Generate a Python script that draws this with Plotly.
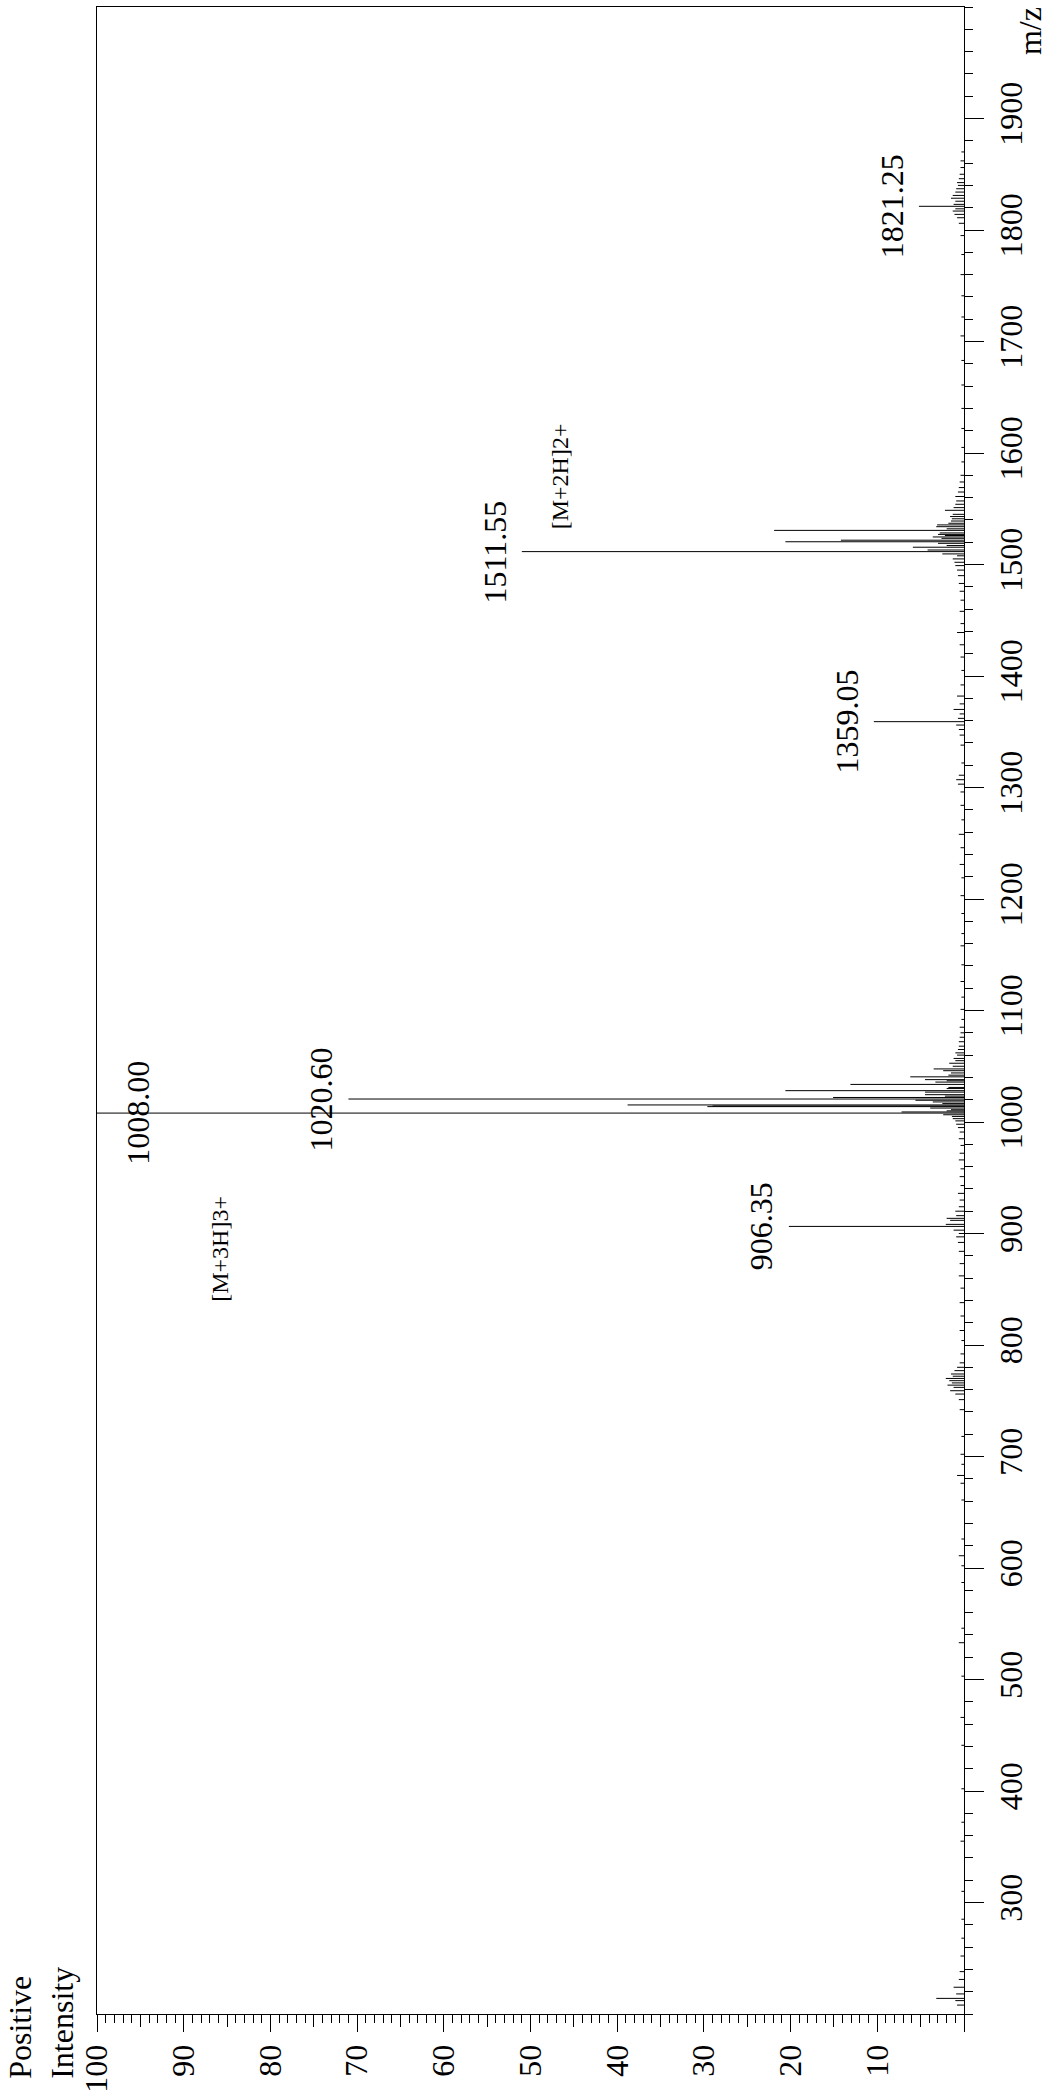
import plotly.graph_objects as go

# ---- spectrum data (m/z, relative intensity %) ----
mz = [208, 212, 214, 218, 224, 231, 238, 252, 268, 285,
      310, 355, 372, 402, 441, 466, 503, 533, 546, 587,
      602, 611, 626, 661, 676, 683, 693, 702, 718, 742,
      751, 756, 759, 762, 764, 766, 768, 770, 772, 774,
      777, 780, 784, 792, 804, 813, 826, 838, 851, 862,
      873, 884, 892, 897, 900, 903, 906.35, 908.2, 911.8, 913.6,
      916, 920, 924, 930, 936, 943, 951, 958, 966, 972,
      979, 985, 991, 995, 998, 1001, 1003, 1005, 1006.5, 1008.0,
      1009, 1010, 1011, 1012.5, 1013.8, 1014.4, 1015.3, 1016.5, 1018, 1019.5,
      1020.6, 1022, 1023.2, 1024.5, 1026.8, 1028.1, 1030, 1031, 1033.7, 1035.8,
      1037, 1038, 1040.5, 1042, 1044, 1046, 1047.6, 1050, 1052.7, 1055,
      1057, 1060, 1062, 1065, 1068, 1072, 1076, 1080, 1085, 1092,
      1101, 1112, 1126, 1141, 1158, 1169, 1187, 1203, 1219, 1231,
      1246, 1258, 1271, 1284, 1296, 1303, 1307, 1311, 1322, 1338,
      1347, 1352, 1356, 1359.05, 1362, 1366, 1370, 1375, 1382, 1392,
      1405, 1417, 1428, 1439, 1447, 1458, 1468, 1476, 1483, 1490,
      1495, 1499, 1502, 1505, 1507.8, 1509.5, 1511.55, 1513, 1515.5, 1517,
      1519, 1520.4, 1521.8, 1523.5, 1524.7, 1526, 1527, 1528.3, 1530.6, 1532,
      1533.9, 1535.5, 1537, 1539, 1541, 1543, 1545, 1548.6, 1551, 1554,
      1557, 1561, 1565, 1569, 1574, 1580, 1592, 1605, 1622, 1640,
      1661, 1683, 1705, 1722, 1741, 1760, 1778, 1795, 1806, 1811,
      1814, 1817, 1819, 1821.25, 1823, 1825.8, 1828.5, 1831, 1834, 1837,
      1840, 1842.5, 1846, 1850, 1856, 1862, 1870]
intensity = [0.8, 1.0, 3.2, 0.9, 1.2, 0.6, 0.5, 0.4, 0.3, 0.3,
             0.3, 0.4, 0.3, 0.3, 0.3, 0.4, 0.3, 0.6, 0.3, 0.3,
             0.3, 0.6, 0.3, 0.3, 0.4, 0.8, 0.3, 0.4, 0.3, 0.5,
             0.6, 1.0, 1.6, 1.2, 1.9, 1.4, 1.7, 2.1, 1.3, 1.5,
             1.1, 0.8, 0.5, 0.4, 0.3, 0.5, 0.4, 0.5, 0.4, 0.6,
             0.5, 0.6, 0.7, 0.9, 0.6, 1.2, 20.2, 2.1, 1.6, 2.0,
             0.9, 1.0, 0.6, 0.5, 0.7, 0.4, 0.5, 0.4, 0.6, 0.5,
             0.4, 0.6, 0.5, 0.7, 0.9, 1.0, 1.3, 1.4, 2.4, 100.0,
             7.2, 2.0, 1.5, 3.9, 29.6, 29.0, 38.8, 2.5, 3.6, 5.6,
             71.0, 15.1, 2.2, 4.5, 4.5, 20.6, 2.0, 1.8, 13.1, 3.3,
             2.0, 4.5, 6.2, 1.8, 1.5, 2.4, 3.5, 1.3, 1.7, 1.0,
             1.2, 0.8, 1.0, 0.7, 0.6, 0.6, 0.5, 0.4, 0.5, 0.3,
             0.4, 0.3, 0.4, 0.3, 0.4, 0.3, 0.3, 0.4, 0.3, 0.5,
             0.4, 0.6, 0.3, 0.4, 0.4, 0.7, 0.9, 0.6, 0.3, 0.4,
             0.5, 0.6, 0.9, 10.4, 0.7, 0.5, 1.2, 0.5, 0.8, 0.4,
             0.3, 0.4, 0.5, 0.8, 0.4, 0.5, 0.4, 0.5, 0.6, 0.7,
             0.8, 1.0, 1.1, 1.3, 0.8, 2.5, 51.0, 4.2, 5.9, 2.0,
             3.0, 20.6, 14.2, 2.6, 3.6, 2.2, 3.0, 2.8, 21.9, 2.0,
             3.2, 3.1, 1.8, 1.5, 1.4, 1.6, 1.3, 2.2, 1.2, 1.0,
             0.9, 1.0, 0.7, 0.6, 0.5, 0.4, 0.3, 0.3, 0.3, 0.3,
             0.3, 0.3, 0.4, 0.3, 0.3, 0.4, 0.3, 0.4, 0.6, 0.8,
             1.1, 1.3, 1.0, 5.2, 1.2, 1.0, 1.5, 1.3, 1.0, 0.9,
             0.7, 0.8, 0.6, 0.5, 0.4, 0.4, 0.3]

# labelled peaks
label_mz = [906.35, 1008.00, 1020.60, 1359.05, 1511.55, 1821.25]
label_text = ["906.35", "1008.00", "1020.60", "1359.05", "1511.55", "1821.25"]

# ion annotations
ion_text = ["[M+3H]3+", "[M+2H]2+"]
ion_mz = [886.5, 1579.0]
ion_intensity = [85.9, 46.5]

# axis ticks
int_ticks = [0, 10, 20, 30, 40, 50, 60, 70, 80, 90, 100]
int_labels = ["", "10", "20", "30", "40", "50", "60", "70", "80", "90", "100"]
mz_ticks = [300, 400, 500, 600, 700, 800, 900, 1000, 1100, 1200,
            1300, 1400, 1500, 1600, 1700, 1800, 1900]

FONT = "Liberation Serif, Times New Roman, Times, serif"

# build stick spectrum
xs, ys = [], []
for m, i in zip(mz, intensity):
    xs += [0, i, None]
    ys += [m, m, None]

fig = go.Figure()
fig.add_trace(go.Scatter(x=xs, y=ys, mode="lines",
                         line=dict(color="black", width=1),
                         hoverinfo="skip", showlegend=False))
fig.add_trace(go.Scatter(x=[None], y=[None], xaxis="x2", yaxis="y",
                         showlegend=False, hoverinfo="skip"))

lookup = dict(zip(mz, intensity))
for m, t in zip(label_mz, label_text):
    inten = lookup[m]
    if inten > 90:
        xa, xs_ = 93, 0
    else:
        xa, xs_ = inten, -7
    fig.add_annotation(x=xa, y=m, text=t, textangle=-90, showarrow=False,
                       xanchor="right", yanchor="middle", xshift=xs_,
                       font=dict(family=FONT, size=32, color="black"))

for t, m, i in zip(ion_text, ion_mz, ion_intensity):
    fig.add_annotation(x=i, y=m, text=t, textangle=-90, showarrow=False,
                       xanchor="center", yanchor="middle",
                       font=dict(family=FONT, size=24, color="black"))

fig.add_annotation(xref="paper", yref="paper", x=-0.0646, y=-0.0333,
                   text="Positive<br>Intensity", textangle=-90, showarrow=False,
                   xanchor="center", yanchor="bottom", align="left",
                   font=dict(family=FONT, size=32, color="black"))
fig.add_annotation(xref="paper", yref="paper", x=1.0761, y=0.988,
                   text="m/z", textangle=-90, showarrow=False,
                   xanchor="center", yanchor="middle",
                   font=dict(family=FONT, size=32, color="black"))

fig.update_layout(
    width=1052, height=2099,
    margin=dict(l=97, r=88, t=6, b=81),
    plot_bgcolor="white", paper_bgcolor="white",
    showlegend=False,
    font=dict(family=FONT, size=32, color="black"),
    xaxis=dict(range=[100, 0], tickvals=int_ticks, ticktext=int_labels,
               ticks="outside", ticklen=17, tickwidth=1, tickcolor="black",
               tickangle=-90, showline=True, linecolor="black", linewidth=1,
               mirror=True, showgrid=False, zeroline=False,
               tickfont=dict(family=FONT, size=32, color="black"),
               minor=dict(dtick=1, tick0=0, ticks="outside", ticklen=8,
                          tickcolor="black", tickwidth=1, showgrid=False)),
    xaxis2=dict(range=[100, 0], overlaying="x", anchor="y", side="bottom",
                tickvals=[5, 15, 25, 35, 45, 55, 65, 75, 85, 95],
                ticks="outside", ticklen=12, tickwidth=1, tickcolor="black",
                showticklabels=False, showline=False, showgrid=False,
                zeroline=False),
    yaxis=dict(range=[200, 2000], side="right", tickvals=mz_ticks,
               ticks="outside", ticklen=19, tickwidth=1, tickcolor="black",
               tickangle=-90, showline=True, linecolor="black", linewidth=1,
               mirror=True, showgrid=False, zeroline=False,
               tickfont=dict(family=FONT, size=32, color="black"),
               minor=dict(dtick=20, tick0=0, ticks="outside", ticklen=8,
                          tickcolor="black", tickwidth=1, showgrid=False)),
)

post_js = ("document.body.style.margin='0';"
           "document.body.style.padding='0';"
           "document.body.style.overflow='hidden';"
           "document.documentElement.style.overflow='hidden';")

fig.write_html("out.html", post_script=post_js,
               config={"displayModeBar": False})
